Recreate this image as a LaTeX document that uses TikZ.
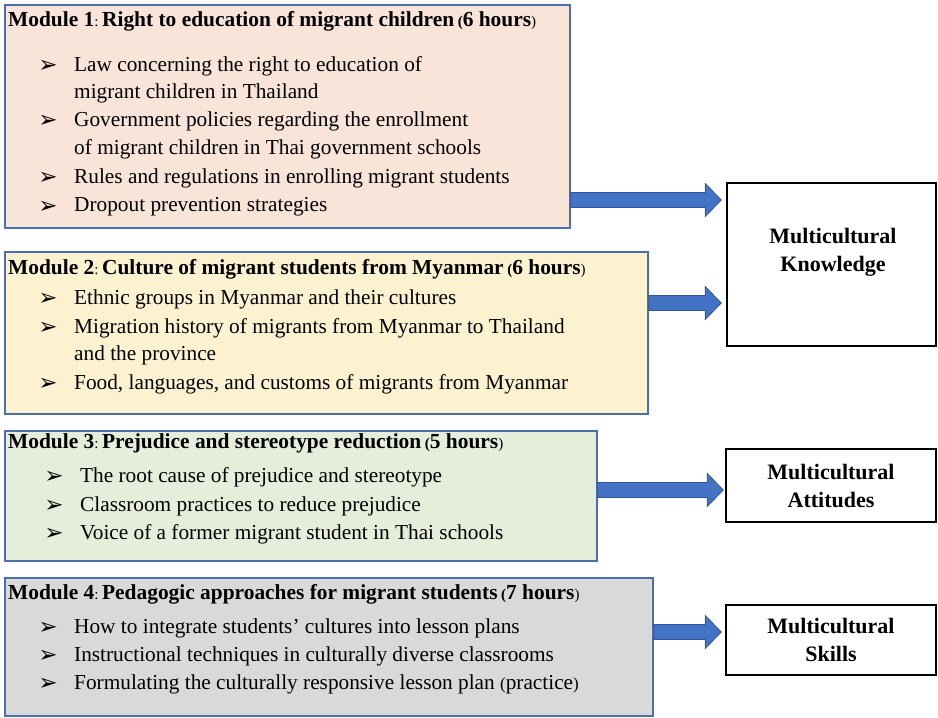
\documentclass[tikz,border=0pt]{standalone}
\usepackage{fontspec}
\setmainfont{Liberation Serif}
\newfontfamily\bulletfont{DejaVu Sans}
\usetikzlibrary{calc}
\definecolor{peach}{HTML}{F8E4D8}
\definecolor{cream}{HTML}{FDF2D0}
\definecolor{mint}{HTML}{E4EEDA}
\definecolor{greybox}{HTML}{D9D9D9}
\definecolor{boxline}{HTML}{4A6FAA}
\definecolor{arrowfill}{HTML}{4472C4}
\definecolor{arrowline}{HTML}{2F5597}
\newcommand\modtitle[3]{\textbf{#1}{\fontsize{15}{15}\selectfont :}\,\textbf{#2}\,{\fontsize{15}{15}\selectfont\textbf{(}}\textbf{#3}{\fontsize{15}{15}\selectfont )}}
\newcommand\blockarrow[2]{\path[arrowsty] ($(#1)+(0,-7.5)$) -- ($(#2)+(-16,-7.5)$) -- ($(#2)+(-16,-16.5)$) -- (#2) -- ($(#2)+(-16,16.5)$) -- ($(#2)+(-16,7.5)$) -- ($(#1)+(0,7.5)$) -- cycle;}
\tikzset{
  modbox/.style={draw=boxline, line width=1.3pt, inner sep=0pt, rectangle},
  outbox/.style={draw=black, line width=1.6pt, fill=white, inner sep=0pt, rectangle, align=center, font=\fontsize{22}{28}\selectfont\bfseries},
  titletxt/.style={anchor=west, inner sep=0pt, font=\fontsize{21.4}{25}\selectfont},
  bodytxt/.style={anchor=west, inner sep=0pt, font=\fontsize{21.3}{25}\selectfont},
  bullet/.style={anchor=center, inner sep=0pt, font=\bulletfont\fontsize{23}{23}\selectfont},
  arrowsty/.style={fill=arrowfill, draw=arrowline, line width=0.8pt, line join=miter},
}
\begin{document}
\begin{tikzpicture}[x=1pt, y=-1pt]
\useasboundingbox[fill=white] (0,0) rectangle (938,718);
% module boxes
\node[modbox, fill=peach, minimum width=565pt, minimum height=223pt] (m1) at (287.5,116.5) {};
\node[modbox, fill=cream, minimum width=643pt, minimum height=162pt] (m2) at (326.5,333) {};
\node[modbox, fill=mint, minimum width=592pt, minimum height=130pt] (m3) at (301,496) {};
\node[modbox, fill=greybox, minimum width=648pt, minimum height=138pt] (m4) at (329,647) {};
% outcome boxes
\node[outbox, minimum width=209pt, minimum height=163pt] (K) at (831.5,264.5) {};
\node[outbox, draw=none, fill=none] (Ktxt) at (833,252) {Multicultural\\Knowledge};
\node[outbox, minimum width=210pt, minimum height=73pt] (A) at (831,485.5) {Multicultural\\Attitudes};
\node[outbox, minimum width=210pt, minimum height=70pt] (S) at (831,640) {Multicultural\\Skills};
% Module 1
\node[titletxt] (t1) at (8,21) {\modtitle{Module 1}{Right to education of migrant children}{6 hours}};
\node[bullet] (b11) at (48,66) {➢};
\node[bodytxt] (l11) at (74,66) {Law concerning the right to education of};
\node[bodytxt] (l12) at (74,93) {migrant children in Thailand};
\node[bullet] (b12) at (48,121) {➢};
\node[bodytxt] (l13) at (74,121) {Government policies regarding the enrollment};
\node[bodytxt] (l14) at (74,149) {of migrant children in Thai government schools};
\node[bullet] (b13) at (48,178) {➢};
\node[bodytxt] (l15) at (74,178) {Rules and regulations in enrolling migrant students};
\node[bullet] (b14) at (48,207) {➢};
\node[bodytxt] (l16) at (74,207) {Dropout prevention strategies};
% Module 2
\node[titletxt] (t2) at (8,269) {\modtitle{Module 2}{Culture of migrant students from Myanmar}{6 hours}};
\node[bullet] (b21) at (48,299) {➢};
\node[bodytxt] (l21) at (74,299) {Ethnic groups in Myanmar and their cultures};
\node[bullet] (b22) at (48,328) {➢};
\node[bodytxt] (l22) at (74,328) {Migration history of migrants from Myanmar to Thailand};
\node[bodytxt] (l23) at (74,355) {and the province};
\node[bullet] (b23) at (48,384) {➢};
\node[bodytxt] (l24) at (74,384) {Food, languages, and customs of migrants from Myanmar};
% Module 3
\node[titletxt] (t3) at (8,443) {\modtitle{Module 3}{Prejudice and stereotype reduction}{5 hours}};
\node[bullet] (b31) at (54,477) {➢};
\node[bodytxt] (l31) at (80,477) {The root cause of prejudice and stereotype};
\node[bullet] (b32) at (54,506) {➢};
\node[bodytxt] (l32) at (80,506) {Classroom practices to reduce prejudice};
\node[bullet] (b33) at (54,534) {➢};
\node[bodytxt] (l33) at (80,534) {Voice of a former migrant student in Thai schools};
% Module 4
\node[titletxt] (t4) at (8,594) {\modtitle{Module 4}{Pedagogic approaches for migrant students}{7 hours}};
\node[bullet] (b41) at (48,628) {➢};
\node[bodytxt] (l41) at (74,628) {How to integrate students’ cultures into lesson plans};
\node[bullet] (b42) at (48,656) {➢};
\node[bodytxt] (l42) at (74,656) {Instructional techniques in culturally diverse classrooms};
\node[bullet] (b43) at (48,684) {➢};
\node[bodytxt] (l43) at (74,684) {Formulating the culturally responsive lesson plan {\fontsize{17}{17}\selectfont(}practice{\fontsize{17}{17}\selectfont)}};
% arrows
\coordinate (a1s) at (m1.east |- 0,200);
\coordinate (a1e) at ($(K.west |- 0,200)+(-5,0)$);
\coordinate (a2s) at (m2.east |- 0,303);
\coordinate (a2e) at ($(K.west |- 0,303)+(-5,0)$);
\coordinate (a3s) at (m3.east |- 0,490);
\coordinate (a3e) at ($(A.west |- 0,490)+(-2,0)$);
\coordinate (a4s) at (m4.east |- 0,632);
\coordinate (a4e) at ($(S.west |- 0,632)+(-4,0)$);
\blockarrow{a1s}{a1e}
\blockarrow{a2s}{a2e}
\blockarrow{a3s}{a3e}
\blockarrow{a4s}{a4e}
\end{tikzpicture}
\end{document}
